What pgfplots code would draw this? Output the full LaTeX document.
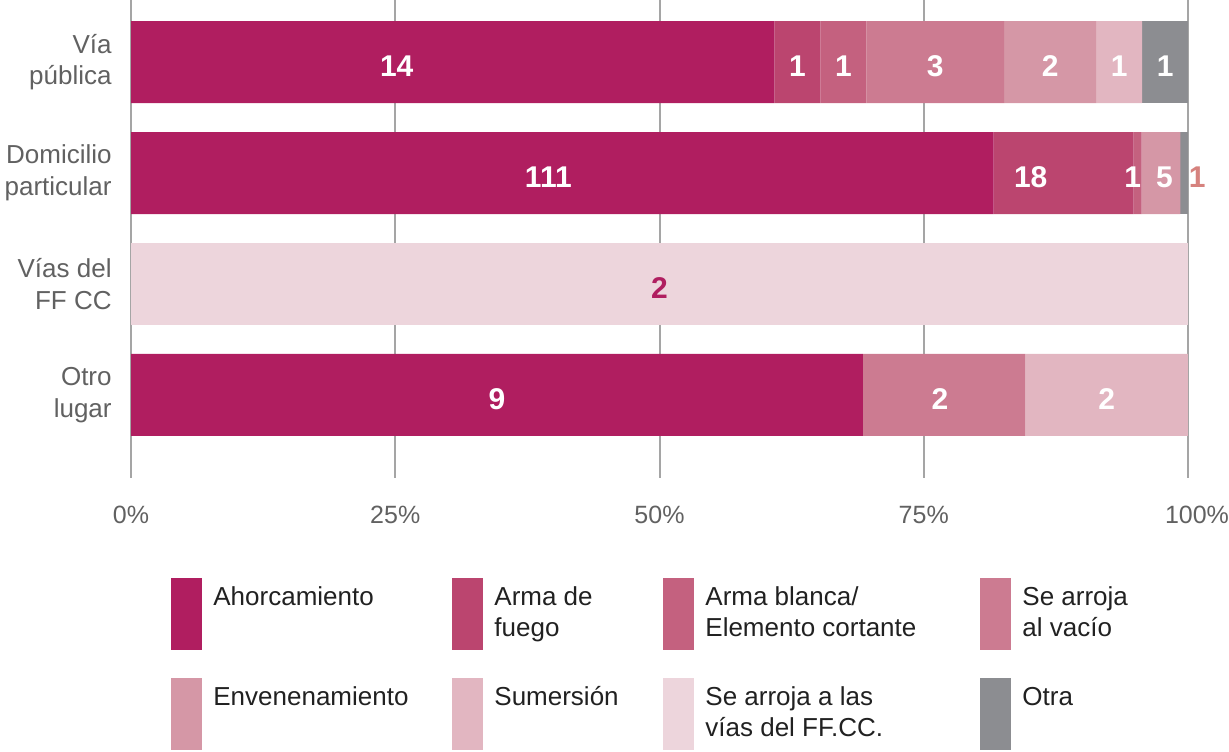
\documentclass[border=0pt]{standalone}
\usepackage{pgfplots}
\pgfplotsset{compat=1.18}
\usepackage{pgfplotstable}
\usepackage{fontspec}
\setmainfont{Liberation Sans}

\definecolor{cA}{RGB}{176,30,96}
\definecolor{cB}{RGB}{187,69,111}
\definecolor{cC}{RGB}{196,97,127}
\definecolor{cD}{RGB}{204,123,145}
\definecolor{cE}{RGB}{213,151,166}
\definecolor{cF}{RGB}{226,182,193}
\definecolor{cG}{RGB}{237,213,220}
\definecolor{cH}{RGB}{140,141,145}
\definecolor{labgray}{RGB}{97,97,97}
\definecolor{gridgray}{RGB}{165,165,165}
\definecolor{legtext}{RGB}{33,33,33}
\definecolor{outlab}{RGB}{214,130,126}

% y: 0 Via publica (23), 1 Domicilio (136), 2 Vias FF CC (2), 3 Otro lugar (13)
% x: share in %, n: count shown, dx: label shift (pt)
\pgfplotstableread{
y x n dx
0 60.87 14 -28
1 81.62 111 -7
2 0 {} 0
3 69.23 9 0
}\tahorc
\pgfplotstableread{
y x n dx
0 4.35 1 0
1 13.24 18 -16.5
2 0 {} 0
3 0 {} 0
}\tfuego
\pgfplotstableread{
y x n dx
0 4.35 1 0
1 0.74 1 -2.5
2 0 {} 0
3 0 {} 0
}\tblanca
\pgfplotstableread{
y x n dx
0 13.04 3 0
1 0 {} 0
2 0 {} 0
3 15.38 2 -2
}\tvacio
\pgfplotstableread{
y x n dx
0 8.70 2 0
1 3.68 5 1.75
2 0 {} 0
3 0 {} 0
}\tvenen
\pgfplotstableread{
y x n dx
0 4.35 1 0
1 0 {} 0
2 0 {} 0
3 15.38 2 0
}\tsumer
\pgfplotstableread{
y x n dx
0 0 {} 0
1 0 {} 0
2 100 2 0
3 0 {} 0
}\tvias
% "Otra": the Domicilio value is kept apart so that its label can sit outside
\pgfplotstableread{
y x n dx
0 4.35 1 0
1 0 {} 0
2 0 {} 0
3 0 {} 0
}\totra
\pgfplotstableread{
y x n dx
0 0 {} 0
1 0.74 1 6.5
2 0 {} 0
3 0 {} 0
}\totrab

\pgfplotsset{seg/.style={fill=#1, draw=none,
  point meta=explicit symbolic,
  visualization depends on={\thisrow{dx}\as\lshift},
  nodes near coords,
  every node near coord/.append style={xshift=\lshift pt, yshift=-2pt,
    text=white, inner sep=0pt, font=\bfseries\fontsize{15}{18}\selectfont}}}

\newcommand\legitem[5]{%
  \fill[#3] (#1,#2) rectangle (#1+15.5,#2-36);
  \node[anchor=base west, inner sep=0pt] at (#1+21,#2-13.5) {#4};
  \node[anchor=base west, inner sep=0pt] at (#1+21,#2-29.35) {#5};}

\begin{document}
\begin{tikzpicture}
\begin{axis}[
  at={(0,0)}, anchor=south west, scale only axis,
  width=528.5pt, height=239pt,
  xbar stacked, bar width=41pt,
  xmin=0, xmax=100, ymin=-0.56, ymax=3.75, y dir=reverse,
  enlargelimits=false, clip=false,
  axis line style={draw=none}, tick style={draw=none},
  xmajorgrids, grid style={gridgray, line width=1pt},
  xtick={0,25,50,75,100},
  xticklabels={0\%,25\%,50\%,75\%,\hspace*{9pt}100\%},
  ytick={0,1,2,3},
  yticklabels={{Vía\\pública},{Domicilio\\particular},{Vías del\\FF CC},{Otro\\lugar}},
  tick label style={inner sep=0pt, text=labgray, font=\fontsize{12.5}{15.8}\selectfont},
  yticklabel style={align=right, xshift=-9.5pt, font=\fontsize{13}{15.8}\selectfont},
  xticklabel style={yshift=-14pt},
]
\addplot[seg=cA] table[x=x,y=y,meta=n] {\tahorc};
\addplot[seg=cB] table[x=x,y=y,meta=n] {\tfuego};
\addplot[seg=cC] table[x=x,y=y,meta=n] {\tblanca};
\addplot[seg=cD] table[x=x,y=y,meta=n] {\tvacio};
\addplot[seg=cE] table[x=x,y=y,meta=n] {\tvenen};
\addplot[seg=cF] table[x=x,y=y,meta=n] {\tsumer};
\addplot[seg=cG, every node near coord/.append style={text=cA}] table[x=x,y=y,meta=n] {\tvias};
\addplot[seg=cH] table[x=x,y=y,meta=n] {\totra};
\addplot[seg=cH, every node near coord/.append style={text=outlab}] table[x=x,y=y,meta=n] {\totrab};
\end{axis}
\begin{scope}[x=1pt, y=1pt, font=\fontsize{13}{15.8}\selectfont, text=legtext]
\legitem{20}{-50}{cA}{Ahorcamiento}{}
\legitem{160.5}{-50}{cB}{Arma de}{fuego}
\legitem{266}{-50}{cC}{Arma blanca/}{Elemento cortante}
\legitem{424.5}{-50}{cD}{Se arroja}{al vacío}
\legitem{20}{-100}{cE}{Envenenamiento}{}
\legitem{160.5}{-100}{cF}{Sumersión}{}
\legitem{266}{-100}{cG}{Se arroja a las}{vías del FF.CC.}
\legitem{424.5}{-100}{cH}{Otra}{}
\pgfresetboundingbox
\path[use as bounding box] (-65.5,239) rectangle (549,-136.5);
\end{scope}
\end{tikzpicture}
\end{document}
